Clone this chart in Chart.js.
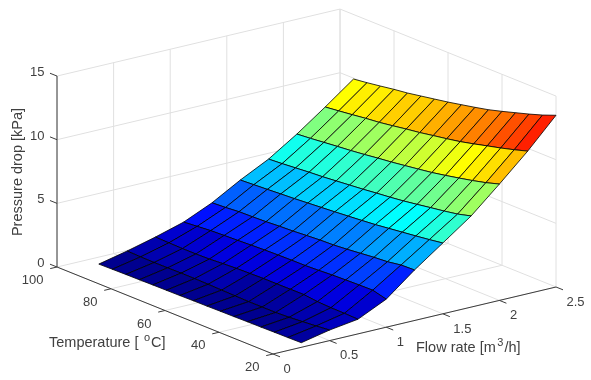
<!DOCTYPE html>
<html>
<head>
<meta charset="utf-8">
<style>
  html, body { margin: 0; padding: 0; background: #fff; }
  canvas { display: block; }
</style>
<script src="https://cdn.jsdelivr.net/npm/chart.js@4"></script>
</head>
<body>
<canvas id="surface" width="591" height="380"></canvas>
<script>
const flowRates = [0.25, 0.5, 0.75, 1, 1.25, 1.5, 1.75, 2, 2.25, 2.5];
const temperatures = [20, 25, 30, 35, 40, 45, 50, 55, 60, 65, 70, 75, 80, 85, 90, 95];

// one row per flow rate, one value per temperature
const drop025 = [0.36, 0.34, 0.33, 0.31, 0.30, 0.28, 0.27, 0.25, 0.24, 0.22, 0.21, 0.20, 0.18, 0.17, 0.15, 0.13];
const drop050 = [0.83, 0.72, 0.63, 0.55, 0.50, 0.50, 0.50, 0.52, 0.55, 0.58, 0.60, 0.60, 0.59, 0.58, 0.60, 0.63];
const drop075 = [1.15, 1.19, 1.20, 1.25, 1.38, 1.37, 1.36, 1.36, 1.33, 1.30, 1.25, 1.18, 1.15, 1.15, 1.17, 1.20];
const drop100 = [2.20, 2.48, 2.46, 2.43, 2.39, 2.33, 2.28, 2.27, 2.25, 2.22, 2.17, 2.12, 2.08, 2.03, 1.94, 1.85];
const drop125 = [3.97, 3.93, 3.76, 3.68, 3.57, 3.46, 3.37, 3.33, 3.26, 3.18, 3.13, 3.06, 3.02, 2.99, 2.90, 2.84];
const drop150 = [5.56, 5.40, 5.26, 5.13, 5.00, 4.87, 4.77, 4.68, 4.59, 4.51, 4.43, 4.35, 4.29, 4.22, 4.16, 4.10];
const drop175 = [7.16, 6.88, 6.69, 6.53, 6.36, 6.20, 6.07, 5.96, 5.84, 5.74, 5.64, 5.54, 5.47, 5.38, 5.29, 5.22];
const drop200 = [9.14, 8.82, 8.56, 8.33, 8.11, 7.91, 7.75, 7.60, 7.45, 7.33, 7.19, 7.07, 6.97, 6.86, 6.75, 6.66];
const drop225 = [11.20, 10.88, 10.59, 10.33, 10.06, 9.81, 9.61, 9.43, 9.24, 9.09, 8.92, 8.76, 8.65, 8.51, 8.38, 8.26];
const drop250 = [13.49, 13.08, 12.73, 12.41, 12.09, 11.79, 11.55, 11.33, 11.11, 10.92, 10.73, 10.54, 10.40, 10.23, 10.07, 9.93];
const pressureDrop = [drop025, drop050, drop075, drop100, drop125, drop150, drop175, drop200, drop225, drop250];

const flowTicks = [0, 0.5, 1, 1.5, 2, 2.5];
const tempTicks = [20, 40, 60, 80, 100];
const pressureTicks = [0, 5, 10, 15];

const flowLabel = ['Flow rate [m', '3', '/h]'];
const tempLabel = ['Temperature [ ', 'o', 'C]'];
const pressureLabel = 'Pressure drop [kPa]';

// 3d axes down to the flat plane
function project(flow, temp, drop) {
  return {
    x: 273 + flow * 113.2 + (20 - temp) * 2.7,
    y: 354 - flow * 26.8 + (20 - temp) * 1.0875 - drop * 12.73
  };
}

function jet(v) {
  const k = Math.min(63, Math.floor(v * 64));
  const t = (k + 1) / 64;
  const ramp = c => Math.round(255 * Math.max(0, Math.min(1, 4 * t - c + 0.5, -4 * t + c + 2.5)));
  return 'rgb(' + ramp(2) + ',' + ramp(1) + ',' + ramp(0) + ')';
}

const allDrops = pressureDrop.flat();
const dropMin = Math.min(...allDrops);
const dropMax = Math.max(...allDrops);

function lineSet(points, color, width, order) {
  return {
    data: points, showLine: true, pointRadius: 0, borderColor: color,
    borderWidth: width, fill: false, order: order, clip: false, tension: 0
  };
}

const datasets = [];
const gridColor = 'rgb(224,224,224)';
const axisColor = 'rgb(60,60,60)';
const tMin = tempTicks[0], tMax = tempTicks[tempTicks.length - 1];
const fMin = flowTicks[0], fMax = flowTicks[flowTicks.length - 1];
const zMin = pressureTicks[0], zMax = pressureTicks[pressureTicks.length - 1];

// floor and back walls
flowTicks.forEach(f => {
  datasets.push(lineSet([project(f, tMin, zMin), project(f, tMax, zMin), project(f, tMax, zMax)], gridColor, 1, 9000));
});
tempTicks.forEach(t => {
  datasets.push(lineSet([project(fMin, t, zMin), project(fMax, t, zMin), project(fMax, t, zMax)], gridColor, 1, 9000));
});
pressureTicks.slice(1).forEach(z => {
  datasets.push(lineSet([project(fMin, tMax, z), project(fMax, tMax, z), project(fMax, tMin, z)], gridColor, 1, 9000));
});

// surface cells, flat colour taken from the low corner of each cell
for (let i = 0; i < flowRates.length - 1; i++) {
  for (let j = 0; j < temperatures.length - 1; j++) {
    const v = (pressureDrop[i][j] - dropMin) / (dropMax - dropMin);
    datasets.push({
      data: [
        project(flowRates[i], temperatures[j], pressureDrop[i][j]),
        project(flowRates[i + 1], temperatures[j], pressureDrop[i + 1][j]),
        project(flowRates[i + 1], temperatures[j + 1], pressureDrop[i + 1][j + 1]),
        project(flowRates[i], temperatures[j + 1], pressureDrop[i][j + 1]),
        project(flowRates[i], temperatures[j], pressureDrop[i][j])
      ],
      showLine: true, pointRadius: 0, tension: 0, clip: false,
      borderColor: '#000', borderWidth: 0.8, borderJoinStyle: 'bevel',
      backgroundColor: jet(v), fill: 'shape',
      order: 100 + i + j
    });
  }
}

// dark axis lines and their ticks
datasets.push(lineSet([project(fMin, tMax, zMin), project(fMin, tMax, zMax)], axisColor, 1, 1));
datasets.push(lineSet([project(fMin, tMax, zMin), project(fMin, tMin, zMin), project(fMax, tMin, zMin)], axisColor, 1, 1));
const tickFlow = 0.06, tickTemp = 2.6;
tempTicks.forEach(t => {
  datasets.push(lineSet([project(fMin, t, zMin), project(fMin - tickFlow, t, zMin)], axisColor, 1, 1));
});
flowTicks.forEach(f => {
  datasets.push(lineSet([project(f, tMin, zMin), project(f, tMin - tickTemp, zMin)], axisColor, 1, 1));
});
pressureTicks.forEach(z => {
  datasets.push(lineSet([project(fMin, tMax, z), project(fMin, tMax + tickTemp, z)], axisColor, 1, 1));
});

function supText(ctx, parts, x, y) {
  // text, raised small part, text
  let cx = x;
  ctx.textAlign = 'left';
  ctx.font = '14.5px "Liberation Sans"';
  ctx.fillText(parts[0], cx, y);
  cx += ctx.measureText(parts[0]).width + 1.5;
  ctx.font = '11px "Liberation Sans"';
  ctx.fillText(parts[1], cx, y - 5);
  cx += ctx.measureText(parts[1]).width + 1;
  ctx.font = '14.5px "Liberation Sans"';
  ctx.fillText(parts[2], cx, y);
}

const axisText = {
  id: 'axisText',
  afterDraw(chart) {
    const ctx = chart.ctx;
    const sx = chart.scales.x, sy = chart.scales.y;
    const at = (f, t, z) => {
      const p = project(f, t, z);
      return { x: sx.getPixelForValue(p.x), y: sy.getPixelForValue(p.y) };
    };
    ctx.save();
    ctx.fillStyle = '#404040';
    ctx.textBaseline = 'middle';
    ctx.font = '13px "Liberation Sans"';
    ctx.textAlign = 'right';
    pressureTicks.forEach(z => {
      const p = at(fMin, tMax, z);
      ctx.fillText(String(z), p.x - 12.5, p.y - 3.5);
    });
    tempTicks.forEach(t => {
      const p = at(fMin, t, zMin);
      ctx.fillText(String(t), p.x - 13.5, p.y + 13.5);
    });
    ctx.textAlign = 'left';
    flowTicks.forEach(f => {
      const p = at(f, tMin, zMin);
      ctx.fillText(String(f), p.x + 10.5, p.y + 15.3);
    });
    supText(ctx, tempLabel, 49, 343);
    supText(ctx, flowLabel, 416, 348);
    ctx.translate(18, 172);
    ctx.rotate(-Math.PI / 2);
    ctx.textAlign = 'center';
    ctx.font = '14.5px "Liberation Sans"';
    ctx.fillText(pressureLabel, 0, 0);
    ctx.restore();
  }
};

new Chart(document.getElementById('surface'), {
  type: 'scatter',
  data: { datasets: datasets },
  options: {
    responsive: false,
    animation: false,
    events: [],
    layout: { padding: 0 },
    plugins: { legend: { display: false }, tooltip: { enabled: false } },
    scales: {
      x: { type: 'linear', min: 0, max: 591, display: false },
      y: { type: 'linear', min: 0, max: 380, reverse: true, display: false }
    }
  },
  plugins: [axisText]
});
</script>
</body>
</html>
